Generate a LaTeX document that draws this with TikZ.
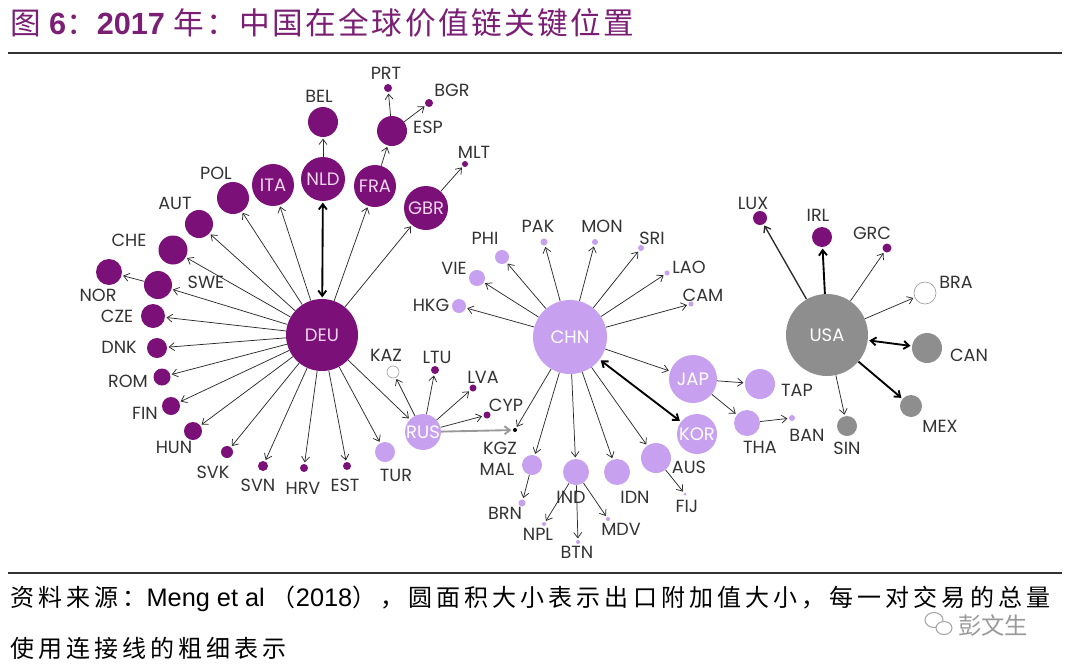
\documentclass[tikz,border=0pt]{standalone}
\usepackage{fontspec}
\setmainfont{Poppins}
\newfontfamily\cjk{Noto Sans CJK SC}
\newfontfamily\cjkt[LetterSpace=8]{Noto Sans CJK SC}
\newfontfamily\cjkf[LetterSpace=17]{Noto Sans CJK SC}
\newfontfamily\arial{Liberation Sans}
\usetikzlibrary{arrows.meta}
\definecolor{dp}{HTML}{7A1078}
\definecolor{lv}{HTML}{C8A0F0}
\definecolor{gr}{HTML}{8E8E8E}
\definecolor{tx}{HTML}{333333}
\definecolor{ln}{HTML}{2A2A2A}
\definecolor{tt}{HTML}{7B1F74}
\definecolor{pk}{HTML}{F2D4EE}
\tikzset{
  cn/.style={circle,inner sep=0pt,minimum size=#1*1.5pt},
  P/.style={cn=#1,fill=dp},
  L/.style={cn=#1,fill=lv},
  G/.style={cn=#1,fill=gr},
  W/.style={cn=#1,draw=gray!75,fill=white,line width=0.5pt},
  K/.style={cn=#1,fill=black},
  lab/.style={font=\fontsize{13.2}{14}\selectfont,text=tx,inner sep=0pt},
  inp/.style={font=\fontsize{13.5}{14}\selectfont,text=pk},
  inw/.style={font=\fontsize{13.5}{14}\selectfont,text=white},
  ar/.style={draw=ln,line width=0.55pt,-{Straight Barb[length=4pt,width=6pt]},shorten >=1pt},
  arm/.style={ar,line width=1pt},
  ark/.style={ar,line width=1.4pt,draw=black},
  arb/.style={draw=black,line width=1.4pt,{Straight Barb[length=4pt,width=6pt]}-{Straight Barb[length=4pt,width=6pt]},shorten >=1pt,shorten <=1pt},
  arg/.style={draw=gray!80,line width=1.4pt,-{Straight Barb[length=4pt,width=6pt]},shorten >=1pt},
}
\begin{document}
\begin{tikzpicture}[x=0.75pt,y=-0.75pt]
\useasboundingbox[fill=white] (0,0) rectangle (1065,668);
% title
\node[anchor=west,inner sep=0pt,text=tt] (title) at (10,23)
  {\fontsize{23}{26}\selectfont{\cjkt 图} {\arial\bfseries 6}{\cjkt ：}{\arial\bfseries 2017} {\cjkt 年：中国在全球价值链关键位置}};
\coordinate (r1a) at (8,53); \coordinate (r1b) at (1062,53);
\draw[line width=1.6pt,color=tx] (r1a) -- (r1b);
\coordinate (r2a) at (8,573); \coordinate (r2b) at (1062,573);
\draw[line width=1.6pt,color=tx] (r2a) -- (r2b);
% footer
\node[anchor=west,inner sep=0pt,text=black] (foot1) at (10,599)
  {\fontsize{18}{20}\selectfont{\cjkf 资料来源：}{\arial\fontsize{19}{20}\selectfont Meng et al }{\cjkf （}{\arial\fontsize{19}{20}\selectfont 2018}{\cjkf ），圆面积大小表示出口附加值大小，每一对交易的总量}};
\node[anchor=west,inner sep=0pt,text=black] (foot2) at (10,648)
  {\fontsize{18}{20}\selectfont{\cjkf 使用连接线的粗细表示}};
\node[inner sep=0pt,text=gray!80] (wm) at (993,626) {\fontsize{17.5}{18}\selectfont\cjk 彭文生};
\draw[gray!70,line width=0.8pt] (934,620) ellipse (9 and 7.5);
\draw[gray!70,line width=0.8pt,fill=white] (944,628) ellipse (8 and 6.5);

% ---------- DEU cluster ----------
\node[P=36,inp] (DEU) at (322,335) {DEU};
\node[P=22,inp] (NLD) at (323,179) {NLD};
\node[P=15] (BEL) at (323,122) {};
\node[P=21,inp] (ITA) at (273,185) {ITA};
\node[P=21,inp] (FRA) at (375,186) {FRA};
\node[P=15] (ESP) at (392,131) {};
\node[P=4] (PRT) at (388,88) {};
\node[P=4] (BGR) at (429,103) {};
\node[P=22,inp] (GBR) at (426,208) {GBR};
\node[P=3] (MLT) at (465,164) {};
\node[P=16] (POL) at (233,198) {};
\node[P=14] (AUT) at (199,224) {};
\node[P=14.5] (CHE) at (173,250) {};
\node[P=13] (NOR) at (109,272) {};
\node[P=14] (SWE) at (158,285) {};
\node[P=12] (CZE) at (153,316) {};
\node[P=10] (DNK) at (157,348) {};
\node[P=8.5] (ROM) at (162,377) {};
\node[P=9] (FIN) at (171,406) {};
\node[P=9] (HUN) at (193,431) {};
\node[P=6] (SVK) at (227,452) {};
\node[P=5] (SVN) at (263,466) {};
\node[P=4] (HRV) at (304,468) {};
\node[P=4] (EST) at (347,466) {};
\node[L=10] (TUR) at (385,452) {};
\node[L=16.5,inw] (RUS) at (423,432) {RUS};
\node[W=6] (KAZ) at (393,372) {};
\node[P=4] (LTU) at (435,370) {};
\node[P=3.5] (LVA) at (473,388) {};
\node[P=3.5] (CYP) at (487,415) {};
\node[K=2] (KGZ) at (515,430) {};

\node[lab] (lBEL) at (319,96) {BEL};
\node[lab] (lPRT) at (386,73) {PRT};
\node[lab] (lBGR) at (452,90) {BGR};
\node[lab] (lESP) at (428,127) {ESP};
\node[lab] (lMLT) at (474,152) {MLT};
\node[lab] (lPOL) at (216,173) {POL};
\node[lab] (lAUT) at (175,203) {AUT};
\node[lab] (lCHE) at (129,240) {CHE};
\node[lab] (lNOR) at (98,295) {NOR};
\node[lab] (lSWE) at (206,282) {SWE};
\node[lab] (lCZE) at (117,316) {CZE};
\node[lab] (lDNK) at (119,347) {DNK};
\node[lab] (lROM) at (128,381) {ROM};
\node[lab] (lFIN) at (145,413) {FIN};
\node[lab] (lHUN) at (174,447) {HUN};
\node[lab] (lSVK) at (213,472) {SVK};
\node[lab] (lSVN) at (258,485) {SVN};
\node[lab] (lHRV) at (303,488) {HRV};
\node[lab] (lEST) at (345,485) {EST};
\node[lab] (lTUR) at (396,475) {TUR};
\node[lab] (lKAZ) at (386,355) {KAZ};
\node[lab] (lLTU) at (437,357) {LTU};
\node[lab] (lLVA) at (483,377) {LVA};
\node[lab] (lCYP) at (506,405) {CYP};
\node[lab] (lKGZ) at (500,448) {KGZ};

\draw[arb] (DEU) -- (NLD);
\foreach \t in {ITA,FRA,GBR,POL,AUT,CHE,SWE,CZE,DNK,ROM,FIN,HUN,SVK,SVN,HRV,EST,TUR,RUS}
  \draw[ar] (DEU) -- (\t);
\draw[ar] (NLD) -- (BEL);
\draw[ar] (FRA) -- (ESP);
\draw[ar] (ESP) -- (PRT);
\draw[ar] (ESP) -- (BGR);
\draw[ar] (GBR) -- (MLT);
\draw[ar] (SWE) -- (NOR);
\foreach \t in {KAZ,LTU,LVA,CYP} \draw[ar] (RUS) -- (\t);
\draw[arg] (RUS) -- (KGZ);

% ---------- CHN cluster ----------
\node[L=37,inw] (CHN) at (570,337) {CHN};
\node[L=7] (PHI) at (502,257) {};
\node[L=3.5] (PAK) at (544,242) {};
\node[L=3] (MON) at (595,242) {};
\node[L=3] (SRI) at (641,248) {};
\node[L=2.5] (LAO) at (667,273) {};
\node[L=2.5] (CAM) at (691,304) {};
\node[L=8] (VIE) at (477,278) {};
\node[L=7] (HKG) at (459,306) {};
\node[L=24,inw] (JAP) at (693,379) {JAP};
\node[L=15] (TAP) at (760,384) {};
\node[L=20,inw] (KOR) at (697,434) {KOR};
\node[L=13] (THA) at (747,423) {};
\node[L=3] (BAN) at (792,418) {};
\node[L=15] (AUS) at (656,458) {};
\node[L=13] (IDN) at (617,472) {};
\node[L=13] (IND) at (576,472) {};
\node[L=10] (MAL) at (532,465) {};
\node[L=3.5] (BRN) at (522,503) {};
\node[L=2] (NPL) at (544,524) {};
\node[L=2] (BTN) at (578,542) {};
\node[L=2] (MDV) at (608,519) {};
\node[L=1.5] (FIJ) at (685,494) {};

\node[lab] (lPHI) at (485,238) {PHI};
\node[lab] (lPAK) at (538,226) {PAK};
\node[lab] (lMON) at (602,226) {MON};
\node[lab] (lSRI) at (652,238) {SRI};
\node[lab] (lLAO) at (689,267) {LAO};
\node[lab] (lCAM) at (703,295) {CAM};
\node[lab] (lVIE) at (454,268) {VIE};
\node[lab] (lHKG) at (431,305) {HKG};
\node[lab] (lTAP) at (797,390) {TAP};
\node[lab] (lTHA) at (760,447) {THA};
\node[lab] (lBAN) at (807,435) {BAN};
\node[lab] (lAUS) at (689,467) {AUS};
\node[lab] (lIDN) at (635,497) {IDN};
\node[lab] (lIND) at (571,497) {IND};
\node[lab] (lMAL) at (497,469) {MAL};
\node[lab] (lBRN) at (505,513) {BRN};
\node[lab] (lNPL) at (538,534) {NPL};
\node[lab] (lBTN) at (577,552) {BTN};
\node[lab] (lMDV) at (621,529) {MDV};
\node[lab] (lFIJ) at (687,506) {FIJ};

\foreach \t in {HKG,VIE,PHI,PAK,MON,SRI,LAO,CAM,JAP,AUS,IDN,IND,MAL,KGZ}
  \draw[ar] (CHN) -- (\t);
\draw[arb] (CHN) -- (KOR);
\draw[ar] (JAP) -- (TAP);
\draw[ar] (JAP) -- (THA);
\draw[ar] (THA) -- (BAN);
\draw[ar] (MAL) -- (BRN);
\draw[ar] (IND) -- (NPL);
\draw[ar] (IND) -- (BTN);
\draw[ar] (IND) -- (MDV);
\draw[ar] (AUS) -- (FIJ);

% ---------- USA cluster ----------
\node[G=41,inw] (USA) at (827,335) {USA};
\node[P=7] (LUX) at (760,218) {};
\node[P=10] (IRL) at (822,237) {};
\node[P=4.5] (GRC) at (887,248) {};
\node[W=11] (BRA) at (925,293) {};
\node[G=15] (CAN) at (927,348) {};
\node[G=11] (MEX) at (911,406) {};
\node[G=10] (SIN) at (847,426) {};

\node[lab] (lLUX) at (753,203) {LUX};
\node[lab] (lIRL) at (818,215) {IRL};
\node[lab] (lGRC) at (872,233) {GRC};
\node[lab] (lBRA) at (956,282) {BRA};
\node[lab] (lCAN) at (969,355) {CAN};
\node[lab] (lMEX) at (940,426) {MEX};
\node[lab] (lSIN) at (847,448) {SIN};

\draw[arm] (USA) -- (LUX);
\draw[ark] (USA) -- (IRL);
\draw[ar] (USA) -- (GRC);
\draw[ar] (USA) -- (BRA);
\draw[arb] (USA) -- (CAN);
\draw[ark] (USA) -- (MEX);
\draw[ar] (USA) -- (SIN);
\end{tikzpicture}
\end{document}
